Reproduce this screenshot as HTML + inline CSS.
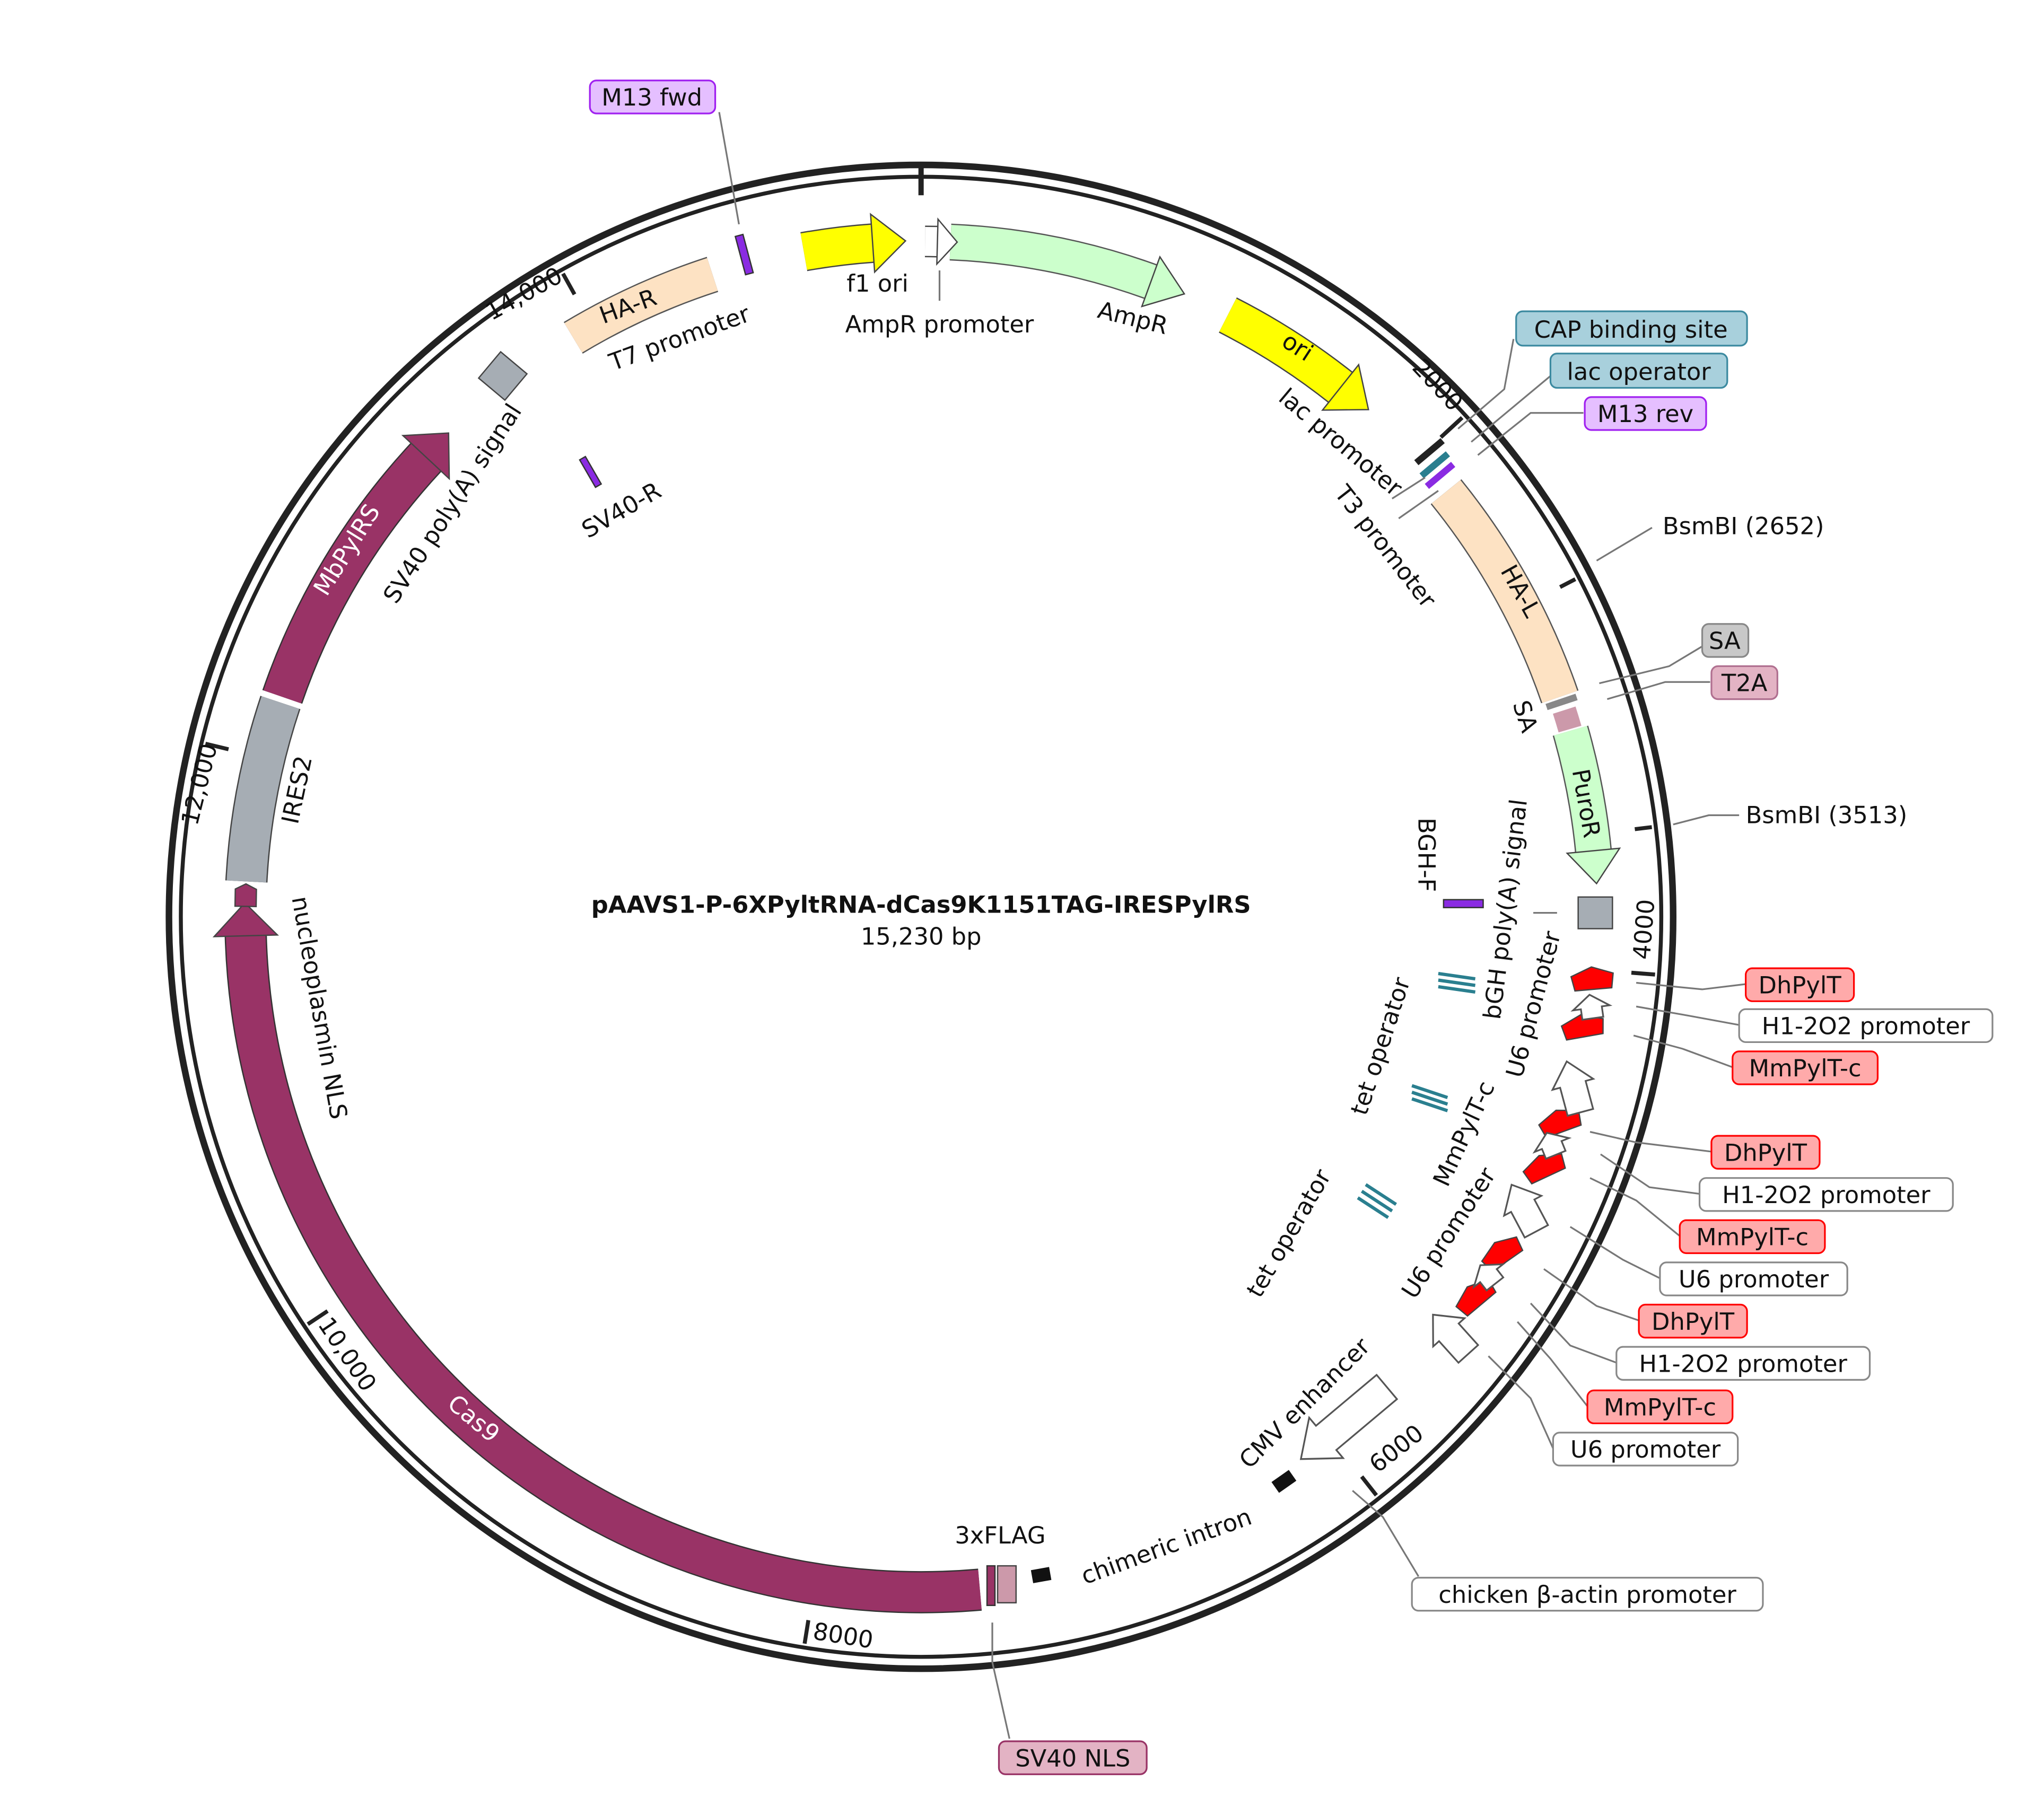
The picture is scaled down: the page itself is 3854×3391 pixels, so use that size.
<!DOCTYPE html>
<html><head><meta charset="utf-8"><style>
html,body{margin:0;padding:0;background:#fff}
svg{display:block}
text{font-family:"DejaVu Sans","Liberation Sans",sans-serif;font-size:18px;fill:#111}
.b{stroke:#444;stroke-width:1}
</style></head><body>
<svg width="3854" height="3391" viewBox="0 0 1549 1363" xmlns="http://www.w3.org/2000/svg">
<rect width="1549" height="1363" fill="#fff"/>
<!-- backbone -->
<circle cx="698" cy="695" r="570" fill="none" stroke="#222" stroke-width="5"/>
<circle cx="698" cy="695" r="561" fill="none" stroke="#222" stroke-width="3"/>
<line x1="698" y1="123" x2="698" y2="148" stroke="#222" stroke-width="4"/>
<g stroke="#222" stroke-width="3">
<line x1="698" y1="559" x2="698" y2="140" transform="rotate(47.3 698 695)" stroke-dasharray="0 400 20 100"/>
</g>
<g stroke="#222" stroke-width="3">
<line x1="698" y1="137" x2="698" y2="155" transform="rotate(47.3 698 695)"/>
<line x1="698" y1="137" x2="698" y2="155" transform="rotate(94.5 698 695)"/>
<line x1="698" y1="137" x2="698" y2="155" transform="rotate(141.8 698 695)"/>
<line x1="698" y1="137" x2="698" y2="155" transform="rotate(189.1 698 695)"/>
<line x1="698" y1="137" x2="698" y2="155" transform="rotate(236.4 698 695)"/>
<line x1="698" y1="137" x2="698" y2="155" transform="rotate(283.6 698 695)"/>
<line x1="698" y1="137" x2="698" y2="155" transform="rotate(330.9 698 695)"/>
<line x1="698" y1="137" x2="698" y2="150" transform="rotate(62.7 698 695)"/>
<line x1="698" y1="137" x2="698" y2="150" transform="rotate(83 698 695)"/>
</g>
<text x="1085" y="296" transform="rotate(47 1085 296)" text-anchor="middle" font-size="17">2000</text>
<text x="1252" y="705" transform="rotate(-85.5 1252 705)" text-anchor="middle" font-size="17">4000</text>
<text x="1062" y="1103" transform="rotate(-38 1062 1103)" text-anchor="middle" font-size="17">6000</text>
<text x="638" y="1246" transform="rotate(9 638 1246)" text-anchor="middle" font-size="17">8000</text>
<text x="258" y="1030" transform="rotate(56 258 1030)" text-anchor="middle" font-size="17">10,000</text>
<text x="157" y="596" transform="rotate(-76 157 596)" text-anchor="middle" font-size="17">12,000</text>
<text x="400" y="228" transform="rotate(-29 400 228)" text-anchor="middle" font-size="17">14,000</text>

<!-- feature bands (circle r=512, C=3217, 8.936/deg) -->
<g transform="rotate(-90 698 695)" fill="none">
 <!-- f1 ori -->
 <circle cx="698" cy="695" r="512" stroke="#444" stroke-width="30" stroke-dasharray="53.6 4000" stroke-dashoffset="-3127.6"/>
 <circle cx="698" cy="695" r="512" stroke="#ffff00" stroke-width="28" stroke-dasharray="53.6 4000" stroke-dashoffset="-3127.6"/>
 <!-- AmpR promoter -->
 <circle cx="698" cy="695" r="512" stroke="#444" stroke-width="24" stroke-dasharray="9 4000" stroke-dashoffset="-3"/>
 <circle cx="698" cy="695" r="512" stroke="#fff" stroke-width="22" stroke-dasharray="9 4000" stroke-dashoffset="-3"/>
 <!-- AmpR -->
 <circle cx="698" cy="695" r="512" stroke="#555" stroke-width="28" stroke-dasharray="156.4 4000" stroke-dashoffset="-22.3"/>
 <circle cx="698" cy="695" r="512" stroke="#ccffcc" stroke-width="26" stroke-dasharray="156.4 4000" stroke-dashoffset="-22.3"/>
 <!-- ori -->
 <circle cx="698" cy="695" r="512" stroke="#444" stroke-width="30" stroke-dasharray="102.8 4000" stroke-dashoffset="-241.3"/>
 <circle cx="698" cy="695" r="512" stroke="#ffff00" stroke-width="28" stroke-dasharray="102.8 4000" stroke-dashoffset="-241.3"/>
 <!-- HA-L -->
 <circle cx="698" cy="695" r="512" stroke="#555" stroke-width="30" stroke-dasharray="178.7 4000" stroke-dashoffset="-455.7"/>
 <circle cx="698" cy="695" r="512" stroke="#fde2c3" stroke-width="28" stroke-dasharray="178.7 4000" stroke-dashoffset="-455.7"/>
 <!-- SA / T2A -->
 <circle cx="698" cy="695" r="512" stroke="#888" stroke-width="24" stroke-dasharray="5 4000" stroke-dashoffset="-636"/>
 <circle cx="698" cy="695" r="512" stroke="#cc99aa" stroke-width="18" stroke-dasharray="15 4000" stroke-dashoffset="-645"/>
 <!-- PuroR -->
 <circle cx="698" cy="695" r="512" stroke="#555" stroke-width="28" stroke-dasharray="93.8 4000" stroke-dashoffset="-661.3"/>
 <circle cx="698" cy="695" r="512" stroke="#ccffcc" stroke-width="26" stroke-dasharray="93.8 4000" stroke-dashoffset="-661.3"/>
 <!-- Cas9 -->
 <circle cx="698" cy="695" r="512" stroke="#333" stroke-width="32" stroke-dasharray="835.4 4000" stroke-dashoffset="-1563.8"/>
 <circle cx="698" cy="695" r="512" stroke="#993366" stroke-width="30" stroke-dasharray="835.4 4000" stroke-dashoffset="-1563.8"/>
 <!-- IRES2 -->
 <circle cx="698" cy="695" r="512" stroke="#444" stroke-width="32" stroke-dasharray="138.5 4000" stroke-dashoffset="-2439.5"/>
 <circle cx="698" cy="695" r="512" stroke="#a6adb4" stroke-width="30" stroke-dasharray="138.5 4000" stroke-dashoffset="-2439.5"/>
 <!-- MbPylRS -->
 <circle cx="698" cy="695" r="512" stroke="#333" stroke-width="32" stroke-dasharray="214.5 4000" stroke-dashoffset="-2582.5"/>
 <circle cx="698" cy="695" r="512" stroke="#993366" stroke-width="30" stroke-dasharray="214.5 4000" stroke-dashoffset="-2582.5"/>
 <!-- HA-R -->
 <circle cx="698" cy="695" r="512" stroke="#555" stroke-width="28" stroke-dasharray="116.2 4000" stroke-dashoffset="-2940"/>
 <circle cx="698" cy="695" r="512" stroke="#fde2c3" stroke-width="26" stroke-dasharray="116.2 4000" stroke-dashoffset="-2940"/>
</g>
<!-- arrowheads (drawn at top, rotated) -->
<g stroke="#444" stroke-width="1">
<polygon points="697,161 722,183 697,205" fill="#ffff00" transform="rotate(356 698 695)"/>
<polygon points="697,166 712,183 697,200" fill="#fff" transform="rotate(1.5 698 695)"/>
<polygon points="697,163 724,183 697,203" fill="#ccffcc" transform="rotate(20 698 695)"/>
<polygon points="697,161 724,183 697,205" fill="#ffff00" transform="rotate(38.5 698 695)"/>
<polygon points="697,163 722,183 697,203" fill="#ccffcc" transform="rotate(84.5 698 695)"/>
<polygon points="697,159 722,183 697,207" fill="#993366" transform="rotate(268.5 698 695)"/>
<polygon points="697,159 722,183 697,207" fill="#993366" transform="rotate(313 698 695)"/>
<polygon points="697,175 710,175 714,183 710,191 697,191" fill="#993366" transform="rotate(271 698 695)"/>
</g>
<!-- squares -->
<rect x="1196" y="680" width="26" height="24" fill="#a6adb4" stroke="#444"/>
<rect x="368" y="272" width="26" height="26" fill="#a6adb4" stroke="#444" transform="rotate(40 381 285)"/>
<!-- small misc features -->
<rect x="561" y="178" width="6" height="30" fill="#8a2be2" stroke="#333" transform="rotate(-15 564 193)"/>
<rect x="445" y="346" width="5" height="24" fill="#8a2be2" stroke="#333" transform="rotate(-30 447 358)"/>
<rect x="1094" y="682" width="30" height="6" fill="#8a2be2" stroke="#333"/>
<g fill="#222"><rect x="1070" y="340" width="26" height="5" transform="rotate(-40 1083 342)"/><rect x="1074" y="350" width="26" height="5" transform="rotate(-40 1087 352)" fill="#2a7f8f"/><rect x="1078" y="358" width="26" height="5" transform="rotate(-40 1091 360)" fill="#8a2be2"/></g>
<rect x="748" y="1187" width="6" height="30" fill="#993366" stroke="#333"/>
<rect x="756" y="1187" width="14" height="28" fill="#cc99aa" stroke="#444"/>
<rect x="782" y="1189" width="14" height="10" fill="#111" transform="rotate(-10 789 1194)"/>
<rect x="965" y="1118" width="16" height="10" fill="#111" transform="rotate(-35 973 1123)"/>
<!-- tet operators -->
<g stroke="#2a7f8f" stroke-width="2.5">
<line x1="1090" y1="738" x2="1118" y2="742"/><line x1="1090" y1="743" x2="1118" y2="747"/><line x1="1090" y1="748" x2="1118" y2="752"/>
<line x1="1070" y1="823" x2="1097" y2="832"/><line x1="1070" y1="828" x2="1097" y2="837"/><line x1="1070" y1="833" x2="1097" y2="842"/>
<line x1="1035" y1="898" x2="1058" y2="913"/><line x1="1032" y1="903" x2="1055" y2="918"/><line x1="1029" y1="908" x2="1052" y2="923"/>
</g>
<!-- red pentagons -->
<g fill="#ff0000" stroke="#444">
<polygon points="-16,-5 0,-11 16,-5 14,6 -14,6" transform="translate(1207,744) rotate(-5)"/>
<polygon points="-16,-5 0,-11 16,-5 14,6 -14,6" transform="translate(1200,780) rotate(-10)"/>
<polygon points="-16,-5 0,-11 16,-5 14,6 -14,6" transform="translate(1183,852) rotate(-20)"/>
<polygon points="-16,-5 0,-11 16,-5 14,6 -14,6" transform="translate(1171,886) rotate(-25)"/>
<polygon points="-16,-5 0,-11 16,-5 14,6 -14,6" transform="translate(1139,951) rotate(-35)"/>
<polygon points="-16,-5 0,-11 16,-5 14,6 -14,6" transform="translate(1119,984) rotate(-40)"/>
</g>
<!-- white arrows pointing up-ish -->
<g fill="#fff" stroke="#555" stroke-width="1.3">
<polygon points="-8,8 -8,0 -14,0 0,-10 14,0 8,0 8,8" transform="translate(1206,764) rotate(-8)"/>
<polygon points="-10,22 -10,0 -16,0 0,-18 16,0 10,0 10,22" transform="translate(1192,822) rotate(-15)"/>
<polygon points="-8,8 -8,0 -14,0 0,-10 14,0 8,0 8,8" transform="translate(1176,868) rotate(-22)"/>
<polygon points="-10,22 -10,0 -16,0 0,-18 16,0 10,0 10,22" transform="translate(1154,914) rotate(-28)"/>
<polygon points="-8,8 -8,0 -14,0 0,-10 14,0 8,0 8,8" transform="translate(1128,967) rotate(-38)"/>
<polygon points="-10,22 -10,0 -16,0 0,-18 16,0 10,0 10,22" transform="translate(1098,1010) rotate(-42)"/>
<polygon points="-12,60 -12,0 -20,0 0,-25 20,0 12,0 12,60" transform="translate(1005,1090) rotate(-130)"/>
</g>
<!-- leader lines -->
<g stroke="#777" stroke-width="1.3" fill="none">
<polyline points="545,85 560,170"/>
<polyline points="1147,257 1140,295 1105,325"/>
<polyline points="1175,285 1115,335"/>
<polyline points="1200,313 1160,313 1120,345"/>
<polyline points="1252,400 1210,425"/>
<polyline points="1290,490 1265,505 1212,518"/>
<polyline points="1296,517 1262,517 1218,530"/>
<polyline points="1318,618 1295,618 1268,625"/>
<polyline points="1323,746 1290,750 1240,745"/>
<polyline points="1318,777 1280,770 1240,763"/>
<polyline points="1313,809 1275,795 1238,785"/>
<polyline points="1297,873 1240,866 1205,858"/>
<polyline points="1288,905 1250,900 1213,875"/>
<polyline points="1273,937 1240,910 1205,893"/>
<polyline points="1258,969 1230,955 1190,930"/>
<polyline points="1242,1001 1210,990 1170,962"/>
<polyline points="1225,1033 1190,1020 1160,988"/>
<polyline points="1203,1066 1175,1030 1150,1002"/>
<polyline points="1177,1098 1160,1060 1128,1028"/>
<polyline points="1075,1195 1048,1150 1025,1130"/>
<polyline points="765,1318 752,1260 752,1230"/>
<polyline points="712,228 712,205"/>
<polyline points="1180,692 1162,692"/>
<polyline points="1055,378 1080,362"/>
<polyline points="1060,393 1090,372"/>
</g>
<!-- callout boxes -->
<g font-size="18" stroke-width="1.3">
<rect x="447" y="61" width="95" height="25" rx="5" fill="#e5bfff" stroke="#a020f0"/><text x="494" y="80" text-anchor="middle">M13 fwd</text>
<rect x="1149" y="236" width="175" height="26" rx="5" fill="#a8d0dc" stroke="#3c8aa0"/><text x="1236" y="256" text-anchor="middle">CAP binding site</text>
<rect x="1175" y="268" width="134" height="26" rx="5" fill="#a8d0dc" stroke="#3c8aa0"/><text x="1242" y="288" text-anchor="middle">lac operator</text>
<rect x="1201" y="301" width="92" height="25" rx="5" fill="#e5bfff" stroke="#a020f0"/><text x="1247" y="320" text-anchor="middle">M13 rev</text>
<text x="1260" y="405">BsmBI  (2652)</text>
<rect x="1290" y="473" width="35" height="25" rx="5" fill="#c8c8c8" stroke="#888"/><text x="1307" y="492" text-anchor="middle">SA</text>
<rect x="1297" y="505" width="50" height="25" rx="5" fill="#e3b3c4" stroke="#b07090"/><text x="1322" y="524" text-anchor="middle">T2A</text>
<text x="1323" y="624">BsmBI  (3513)</text>
<rect x="1323" y="734" width="82" height="25" rx="5" fill="#ffaaaa" stroke="#ff0000"/><text x="1364" y="753" text-anchor="middle">DhPylT</text>
<rect x="1318" y="765" width="192" height="25" rx="5" fill="#fff" stroke="#888"/><text x="1414" y="784" text-anchor="middle">H1-2O2 promoter</text>
<rect x="1313" y="797" width="110" height="25" rx="5" fill="#ffaaaa" stroke="#ff0000"/><text x="1368" y="816" text-anchor="middle">MmPylT-c</text>
<rect x="1297" y="861" width="82" height="25" rx="5" fill="#ffaaaa" stroke="#ff0000"/><text x="1338" y="880" text-anchor="middle">DhPylT</text>
<rect x="1288" y="893" width="192" height="25" rx="5" fill="#fff" stroke="#888"/><text x="1384" y="912" text-anchor="middle">H1-2O2 promoter</text>
<rect x="1273" y="925" width="110" height="25" rx="5" fill="#ffaaaa" stroke="#ff0000"/><text x="1328" y="944" text-anchor="middle">MmPylT-c</text>
<rect x="1258" y="957" width="142" height="25" rx="5" fill="#fff" stroke="#888"/><text x="1329" y="976" text-anchor="middle">U6 promoter</text>
<rect x="1242" y="989" width="82" height="25" rx="5" fill="#ffaaaa" stroke="#ff0000"/><text x="1283" y="1008" text-anchor="middle">DhPylT</text>
<rect x="1225" y="1021" width="192" height="25" rx="5" fill="#fff" stroke="#888"/><text x="1321" y="1040" text-anchor="middle">H1-2O2 promoter</text>
<rect x="1203" y="1054" width="110" height="25" rx="5" fill="#ffaaaa" stroke="#ff0000"/><text x="1258" y="1073" text-anchor="middle">MmPylT-c</text>
<rect x="1177" y="1086" width="140" height="25" rx="5" fill="#fff" stroke="#888"/><text x="1247" y="1105" text-anchor="middle">U6 promoter</text>
<rect x="1070" y="1196" width="266" height="25" rx="5" fill="#fff" stroke="#888"/><text x="1203" y="1215" text-anchor="middle">chicken β-actin promoter</text>
<rect x="757" y="1320" width="112" height="25" rx="5" fill="#e3b3c4" stroke="#993366"/><text x="813" y="1339" text-anchor="middle">SV40 NLS</text>
</g>
<!-- feature labels -->
<g font-size="18">
<text x="665" y="221" text-anchor="middle">f1 ori</text>
<text x="712" y="252" text-anchor="middle">AmpR promoter</text>
<text x="857" y="247" text-anchor="middle" transform="rotate(14 857 247)">AmpR</text>
<text x="980" y="268" text-anchor="middle" transform="rotate(33 980 268)">ori</text>
<text x="1012" y="340" text-anchor="middle" transform="rotate(40 1012 340)">lac promoter</text>
<text x="1045" y="418" text-anchor="middle" transform="rotate(52 1045 418)">T3 promoter</text>
<text x="1147" y="451" text-anchor="middle" transform="rotate(61 1147 451)">HA-L</text>
<text x="1150" y="545" text-anchor="middle" transform="rotate(72 1150 545)">SA</text>
<text x="1196" y="610" text-anchor="middle" transform="rotate(80 1196 610)">PuroR</text>
<text x="1075" y="648" text-anchor="middle" transform="rotate(90 1075 648)">BGH-F</text>
<text x="1147" y="690" text-anchor="middle" transform="rotate(-83 1147 690)">bGH poly(A) signal</text>
<text x="1168" y="763" text-anchor="middle" transform="rotate(-75 1168 763)">U6 promoter</text>
<text x="1052" y="795" text-anchor="middle" transform="rotate(-72 1052 795)">tet operator</text>
<text x="1115" y="862" text-anchor="middle" transform="rotate(-65 1115 862)">MmPylT-c</text>
<text x="982" y="938" text-anchor="middle" transform="rotate(-60 982 938)">tet operator</text>
<text x="1103" y="938" text-anchor="middle" transform="rotate(-57 1103 938)">U6 promoter</text>
<text x="993" y="1068" text-anchor="middle" transform="rotate(-45 993 1068)">CMV enhancer</text>
<text x="886" y="1178" text-anchor="middle" transform="rotate(-20 886 1178)">chimeric intron</text>
<text x="758" y="1170" text-anchor="middle">3xFLAG</text>
<text x="355" y="1080" text-anchor="middle" fill="#fff" transform="rotate(40 355 1080)" style="fill:#fff">Cas9</text>
<text x="236" y="765" text-anchor="middle" transform="rotate(80 236 765)">nucleoplasmin NLS</text>
<text x="231" y="600" text-anchor="middle" transform="rotate(-78 231 600)">IRES2</text>
<text x="268" y="420" text-anchor="middle" transform="rotate(-58 268 420)" style="fill:#fff">MbPylRS</text>
<text x="348" y="385" text-anchor="middle" transform="rotate(-57 348 385)">SV40 poly(A) signal</text>
<text x="474" y="392" text-anchor="middle" transform="rotate(-30 474 392)">SV40-R</text>
<text x="478" y="238" text-anchor="middle" transform="rotate(-20 478 238)">HA-R</text>
<text x="517" y="262" text-anchor="middle" transform="rotate(-20 517 262)">T7 promoter</text>
</g>
<text x="698" y="692" text-anchor="middle" font-size="21" font-weight="bold">pAAVS1-P-6XPyltRNA-dCas9K1151TAG-IRESPylRS</text>
<text x="698" y="716" text-anchor="middle" font-size="17">15,230 bp</text>
</svg>
</body></html>
